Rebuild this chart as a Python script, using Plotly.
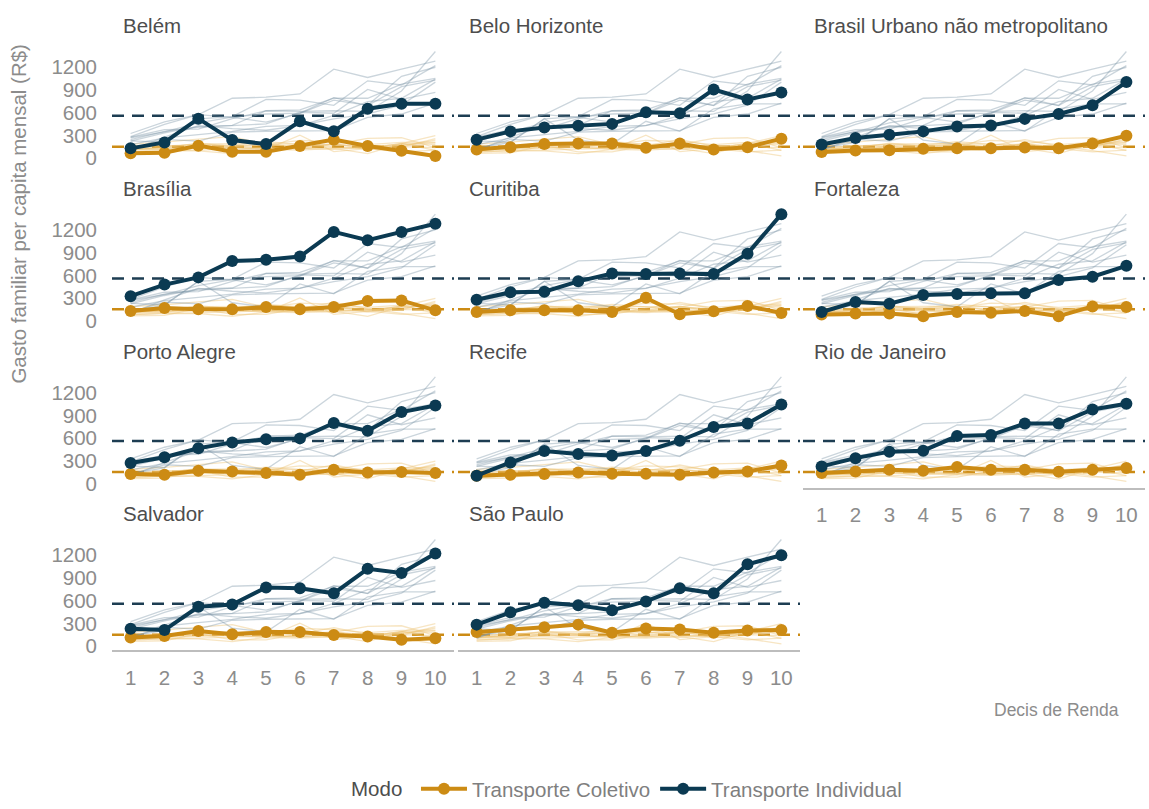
import plotly.graph_objects as go

# Decis de renda (eixo x)
DECIS = list(range(1, 11))

CIDADES = [
    "Belém", "Belo Horizonte", "Brasil Urbano não metropolitano",
    "Brasília", "Curitiba", "Fortaleza",
    "Porto Alegre", "Recife", "Rio de Janeiro",
    "Salvador", "São Paulo",
]

# Gasto familiar per capita mensal (R$) por decil - Transporte Individual
belem_ind = [130, 208, 522, 239, 187, 487, 356, 652, 717, 717]
bh_ind = [245, 354, 406, 427, 453, 606, 593, 907, 776, 867]
brasil_urb_ind = [180, 267, 310, 354, 419, 432, 519, 584, 700, 1004]
brasilia_ind = [326, 479, 574, 791, 805, 848, 1174, 1065, 1174, 1282]
curitiba_ind = [278, 378, 385, 522, 626, 617, 626, 617, 887, 1408]
fortaleza_ind = [117, 248, 226, 343, 356, 365, 365, 539, 583, 726]
poa_ind = [270, 348, 465, 543, 583, 596, 799, 695, 943, 1030]
recife_ind = [104, 278, 430, 391, 369, 430, 565, 747, 791, 1043]
rio_ind = [226, 335, 421, 434, 626, 639, 791, 791, 978, 1052]
salvador_ind = [230, 213, 520, 549, 775, 766, 698, 1021, 966, 1222]
sp_ind = [285, 447, 575, 540, 476, 591, 766, 698, 1081, 1200]

# Gasto familiar per capita mensal (R$) por decil - Transporte Coletivo
belem_col = [65, 72, 166, 85, 85, 160, 245, 160, 100, 30]
bh_col = [115, 146, 189, 193, 193, 137, 193, 115, 146, 258]
brasil_urb_col = [81, 102, 106, 124, 133, 133, 141, 133, 193, 297]
brasilia_col = [130, 170, 152, 152, 183, 152, 183, 261, 270, 139]
curitiba_col = [117, 139, 139, 139, 117, 304, 87, 126, 196, 104]
fortaleza_col = [83, 96, 96, 61, 117, 108, 130, 61, 191, 183]
poa_col = [126, 117, 170, 160, 139, 117, 183, 147, 152, 139]
recife_col = [104, 117, 126, 147, 130, 130, 117, 147, 160, 239]
rio_col = [139, 160, 183, 170, 217, 183, 183, 157, 183, 204]
salvador_col = [115, 136, 200, 157, 187, 187, 149, 128, 85, 106]
sp_col = [187, 213, 251, 285, 179, 234, 221, 179, 208, 213]

# Médias gerais (linhas tracejadas)
MEDIA_INDIVIDUAL = 560
MEDIA_COLETIVO = 152

Y_TICKS = [0, 300, 600, 900, 1200]

individual = dict(zip(CIDADES, [belem_ind, bh_ind, brasil_urb_ind, brasilia_ind, curitiba_ind,
                                fortaleza_ind, poa_ind, recife_ind, rio_ind, salvador_ind, sp_ind]))
coletivo = dict(zip(CIDADES, [belem_col, bh_col, brasil_urb_col, brasilia_col, curitiba_col,
                              fortaleza_col, poa_col, recife_col, rio_col, salvador_col, sp_col]))

COR_IND = "#0b3a52"
COR_COL = "#cc8b14"
COR_IND_FUNDO = "rgba(125,150,168,0.40)"
COR_COL_FUNDO = "rgba(236,192,112,0.42)"
FONTE = "Liberation Sans, Arial, sans-serif"
TAM = 20.5

# Geometria em pixels
W, H = 1149, 809
COL_LEFT = [112, 458, 803]
COL_W = 342
ROW_ZERO = [160, 324.5, 489, 653.5]
X_RANGE = [0.45, 10.55]
Y_RANGE = [-55, 1490]
PX_PER_UNIT = 92 / 1200

fig = go.Figure()
layout = {}
annotations = []
shapes = []
bottom_panels = {8, 9, 10}

for i, cidade in enumerate(CIDADES):
    row, col = divmod(i, 3)
    n = i + 1
    sfx = "" if n == 1 else str(n)
    xa, ya = "x" + sfx, "y" + sfx

    # linhas de fundo: todas as cidades
    for outra in CIDADES:
        fig.add_trace(go.Scatter(x=DECIS, y=coletivo[outra], mode="lines",
                                 line=dict(color=COR_COL_FUNDO, width=1.3),
                                 xaxis=xa, yaxis=ya, showlegend=False, hoverinfo="skip"))
    for outra in CIDADES:
        fig.add_trace(go.Scatter(x=DECIS, y=individual[outra], mode="lines",
                                 line=dict(color=COR_IND_FUNDO, width=1.3),
                                 xaxis=xa, yaxis=ya, showlegend=False, hoverinfo="skip"))

    # cidade em destaque
    fig.add_trace(go.Scatter(x=DECIS, y=coletivo[cidade], mode="lines+markers",
                             name="Transporte Coletivo", legendgroup="col",
                             showlegend=(i == 0),
                             line=dict(color=COR_COL, width=4),
                             marker=dict(color=COR_COL, size=12),
                             xaxis=xa, yaxis=ya))
    fig.add_trace(go.Scatter(x=DECIS, y=individual[cidade], mode="lines+markers",
                             name="Transporte Individual", legendgroup="ind",
                             showlegend=(i == 0),
                             line=dict(color=COR_IND, width=4),
                             marker=dict(color=COR_IND, size=12),
                             xaxis=xa, yaxis=ya))

    left = COL_LEFT[col]
    y0 = ROW_ZERO[row]
    top = y0 - Y_RANGE[1] * PX_PER_UNIT
    bottom = y0 - Y_RANGE[0] * PX_PER_UNIT
    is_bottom = i in bottom_panels

    layout["xaxis" + sfx] = dict(
        domain=[left / W, (left + COL_W) / W], range=X_RANGE, anchor=ya,
        showgrid=False, zeroline=False, tickvals=DECIS,
        showticklabels=is_bottom, showline=is_bottom,
        linecolor="#bdbdbd", linewidth=2, ticks="",
        ticklabelstandoff=8,
        tickfont=dict(size=TAM, color="#8c8c8c", family=FONTE),
    )
    layout["yaxis" + sfx] = dict(
        domain=[1 - bottom / H, 1 - top / H], range=Y_RANGE, anchor=xa,
        showgrid=False, zeroline=False, tickvals=Y_TICKS,
        showticklabels=(col == 0), ticks="", ticklabelstandoff=14,
        tickfont=dict(size=TAM, color="#8c8c8c", family=FONTE),
    )

    annotations.append(dict(text=cidade, x=(left + 9) / W, y=1 - (y0 - 134) / H,
                            xref="paper", yref="paper", xanchor="left", yanchor="middle",
                            showarrow=False, font=dict(size=TAM, color="#4d4d4d", family=FONTE)))

    for valor, cor in ((MEDIA_INDIVIDUAL, "#1d3d52"), (MEDIA_COLETIVO, COR_COL)):
        shapes.append(dict(type="line", xref=xa + " domain", yref=ya,
                           x0=0, x1=1, y0=valor, y1=valor, layer="below",
                           line=dict(color=cor, width=2.5, dash="12px,8px")))

# títulos dos eixos
annotations.append(dict(text="Gasto familiar per capita mensal (R$)", textangle=-90,
                        x=19 / W, y=1 - 216 / H, xref="paper", yref="paper",
                        xanchor="center", yanchor="middle", showarrow=False,
                        font=dict(size=TAM, color="#8c8c8c", family=FONTE)))
annotations.append(dict(text="Decis de Renda", x=1121 / W, y=1 - 718 / H,
                        xref="paper", yref="paper", xanchor="right", yanchor="middle",
                        showarrow=False, font=dict(size=17.5, color="#8c8c8c", family=FONTE)))

fig.update_layout(
    width=W, height=H,
    margin=dict(l=0, r=0, t=0, b=0),
    paper_bgcolor="white", plot_bgcolor="white",
    font=dict(family=FONTE),
    annotations=annotations, shapes=shapes,
    legend=dict(orientation="h", x=628 / W, xanchor="center",
                y=1 - 798 / H, yanchor="middle",
                title=dict(text="Modo ", font=dict(size=TAM, color="#4d4d4d", family=FONTE)),
                font=dict(size=TAM, color="#7f7f7f", family=FONTE),
                itemwidth=46, bgcolor="rgba(0,0,0,0)"),
    **layout,
)

fig.write_html("out.html")
